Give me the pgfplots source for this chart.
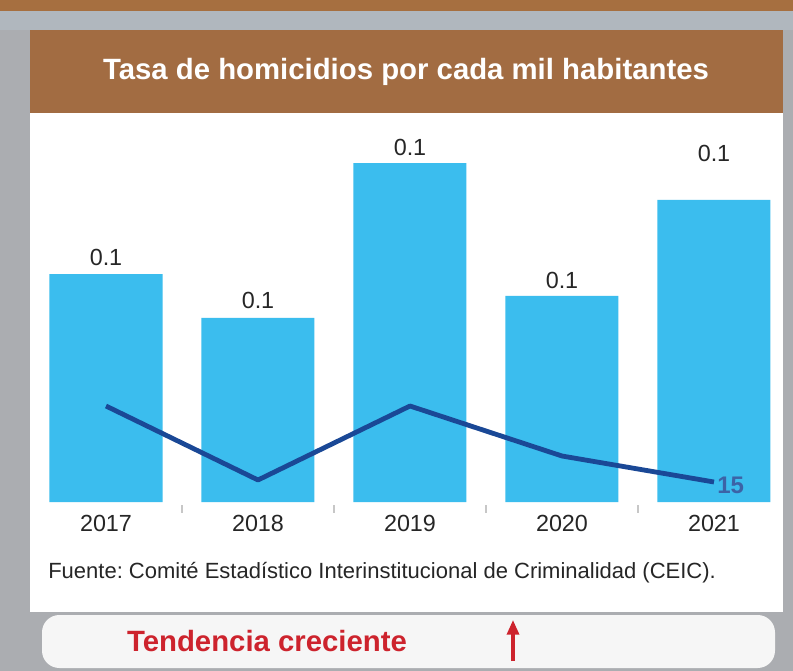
\documentclass[border=0pt]{standalone}
\usepackage{fontspec}
\setmainfont{Liberation Sans}
\usepackage{pgfplots}
\usepackage{pgfplotstable}
\pgfplotsset{compat=1.18}
\usetikzlibrary{arrows.meta}
\frenchspacing

\definecolor{bggray}{RGB}{171,173,177}
\definecolor{topbrown}{RGB}{166,111,64}
\definecolor{bandgray}{RGB}{176,183,190}
\definecolor{titlebrown}{RGB}{162,108,66}
\definecolor{barblue}{RGB}{59,189,238}
\definecolor{lineblue}{RGB}{26,72,150}
\definecolor{trendred}{RGB}{205,35,45}
\definecolor{boxwhite}{RGB}{246,246,246}

% tasa por cada mil habitantes (etiquetas redondeadas a 0.1)
\pgfplotstableread{
x y off
0 0.1345 12.75
1 0.1086 12.75
2 0.2000 12
3 0.1216 11.25
4 0.1782 35.25
}\ratetable

% serie de la linea
\pgfplotstableread{
x y
0 72
1 16.5
2 72
3 34.5
4 15
}\linetable

\begin{document}
\begin{tikzpicture}[x=0.75pt,y=-0.75pt]
% fondo y paneles
\fill[bggray] (0,0) rectangle (793,671);
\fill[topbrown] (0,0) rectangle (793,11);
\fill[bandgray] (0,11) rectangle (793,30);
\fill[white] (30,113) rectangle (783,612);
\fill[titlebrown] (30,30) rectangle (783,113);
\node[text=white, font=\bfseries\fontsize{22}{26}\selectfont] at (406,72)
  {Tasa de homicidios por cada mil habitantes};
\node[anchor=west, inner sep=0pt, text=black!85, font=\fontsize{16.5}{19}\selectfont] at (48,573)
  {Fuente: Comité Estadístico Interinstitucional de Criminalidad (CEIC).};
\fill[boxwhite, rounded corners=13pt] (42,615) rectangle (775,668);
\node[text=trendred, font=\bfseries\fontsize{22}{26}\selectfont] at (267,641) {Tendencia creciente};
\draw[trendred, line width=2.4pt, -{Triangle[length=11pt,width=9pt]}] (513,661) -- (513,620);

\begin{axis}[
    at={(22.5pt,-376.5pt)}, anchor=south west,
    width=564.75pt, height=279pt, scale only axis,
    xmin=-0.5, xmax=4.454, ymin=0, ymax=0.2195,
    ybar, bar width=84.75pt, bar shift=0pt,
    axis y line=none, axis x line=bottom,
    axis line style={draw=none},
    xtick={0,...,4}, xticklabels={2017,2018,2019,2020,2021},
    major tick length=0pt,
    minor xtick={0.5,1.5,2.5,3.5},
    minor tick length=6pt, tick align=outside,
    minor tick style={black!22, line width=1.2pt, yshift=-2pt},
    xticklabel style={font=\fontsize{17.5}{20}\selectfont, text=black!85, yshift=-6pt},
    /pgf/number format/assume math mode=true,
    clip=false,
    nodes near coords={0.1},
    visualization depends on={\thisrow{off} \as \off},
    every node near coord/.append style={anchor=center, yshift=\off,
      font=\fontsize{17.5}{20}\selectfont, text=black!85},
]
\addplot[fill=barblue, draw=none] table[x=x, y=y] {\ratetable};
\end{axis}

\begin{axis}[
    at={(22.5pt,-376.5pt)}, anchor=south west,
    width=564.75pt, height=279pt, scale only axis,
    xmin=-0.5, xmax=4.454, ymin=0, ymax=279,
    hide axis, clip=false,
]
\addplot[lineblue, line width=3.6pt, line join=round, mark=none] table[x=x, y=y] {\linetable};
\addplot[draw=none, mark=none, nodes near coords={15},
  every node near coord/.append style={anchor=west, xshift=-1pt, yshift=-2.5pt,
    font=\bfseries\fontsize{18}{22}\selectfont, text=lineblue!85!white}]
  coordinates {(4,15)};
\end{axis}
\end{tikzpicture}
\end{document}
